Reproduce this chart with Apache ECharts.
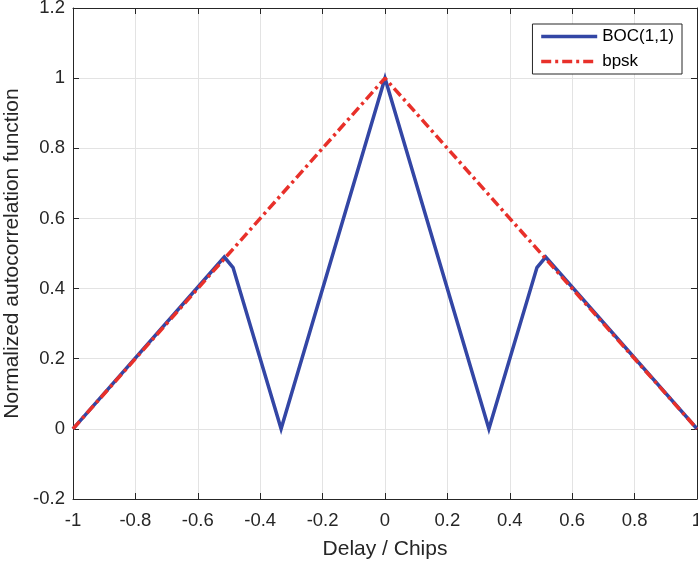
<!DOCTYPE html>
<html>
<head>
<meta charset="utf-8">
<script src="https://cdn.jsdelivr.net/npm/echarts@6/dist/echarts.min.js"></script>
<style>
  html, body { margin: 0; padding: 0; background: #fff; }
  #chart { width: 698px; height: 564px; }
</style>
</head>
<body>
<div id="chart"></div>
<script>
// Delay points (chips) and normalized ACF values
const bocDelay = [-1, -0.515, -0.487, -0.333, 0, 0.333, 0.487, 0.515, 1];
const bocValue = [0, 0.49, 0.46, 0, 1, 0, 0.46, 0.49, 0];
const bpskDelay = [-1, 0, 1];
const bpskValue = [0, 1, 0];

const seriesNames = ['BOC(1,1)', 'bpsk'];

const FONT = '"Liberation Sans", Arial, sans-serif';
const zip = (xs, ys) => xs.map((x, i) => [x, ys[i]]);
const fmt = v => String(Math.round(v * 10) / 10);

const chart = echarts.init(document.getElementById('chart'), null, { renderer: 'canvas' });

// Secondary axes only close the box and carry inward ticks
const frameAxis = {
  axisLine: { show: true, onZero: false, lineStyle: { color: '#262626', width: 1 } },
  axisTick: { show: true, inside: true, length: 6, lineStyle: { color: '#262626' } },
  axisLabel: { show: false },
  splitLine: { show: false }
};

chart.setOption({
  animation: false,
  backgroundColor: '#ffffff',
  grid: { left: 73, right: 1, top: 8, bottom: 65, containLabel: false, outerBoundsMode: 'none' },
  xAxis: [
    {
      type: 'value', min: -1, max: 1, interval: 0.2,
      name: 'Delay / Chips', nameLocation: 'middle', nameGap: 40,
      nameTextStyle: { fontFamily: FONT, fontSize: 21, color: '#262626' },
      axisLine: { show: true, onZero: false, lineStyle: { color: '#262626', width: 1 } },
      axisTick: { show: true, inside: true, length: 6, lineStyle: { color: '#262626' } },
      axisLabel: { fontFamily: FONT, fontSize: 18.5, color: '#262626', margin: 12, formatter: fmt },
      splitLine: { show: true, lineStyle: { color: '#e3e3e3', width: 1 } }
    },
    Object.assign({ type: 'value', position: 'top', min: -1, max: 1, interval: 0.2 }, frameAxis)
  ],
  yAxis: [
    {
      type: 'value', min: -0.2, max: 1.2, interval: 0.2,
      name: 'Normalized autocorrelation function', nameLocation: 'middle', nameGap: 49,
      nameTextStyle: { fontFamily: FONT, fontSize: 21, color: '#262626' },
      axisLine: { show: true, onZero: false, lineStyle: { color: '#262626', width: 1 } },
      axisTick: { show: true, inside: true, length: 6, lineStyle: { color: '#262626' } },
      axisLabel: { fontFamily: FONT, fontSize: 18.5, color: '#262626', margin: 8, formatter: fmt },
      splitLine: { show: true, lineStyle: { color: '#e3e3e3', width: 1 } }
    },
    Object.assign({ type: 'value', position: 'right', min: -0.2, max: 1.2, interval: 0.2 }, frameAxis)
  ],
  legend: {
    orient: 'vertical',
    right: 16, top: 24,
    padding: [4, 8, 4, 7],
    itemGap: 8,
    itemWidth: 56, itemHeight: 17,
    borderColor: '#262626', borderWidth: 1,
    backgroundColor: '#ffffff',
    itemStyle: { opacity: 0 },
    lineStyle: { width: 3.5 },
    textStyle: { fontFamily: FONT, fontSize: 17, color: '#000' },
    data: seriesNames
  },
  series: [
    {
      name: seriesNames[0], type: 'line',
      data: zip(bocDelay, bocValue),
      showSymbol: false, symbol: 'none',
      lineStyle: { color: '#3346A5', width: 3.5, join: 'miter' },
      itemStyle: { color: '#3346A5' },
      z: 2
    },
    {
      name: seriesNames[1], type: 'line',
      data: zip(bpskDelay, bpskValue),
      showSymbol: false, symbol: 'none',
      lineStyle: { color: '#E8302A', width: 3.5, type: [10, 4, 3, 4] },
      itemStyle: { color: '#E8302A' },
      z: 3
    }
  ]
});
</script>
</body>
</html>
